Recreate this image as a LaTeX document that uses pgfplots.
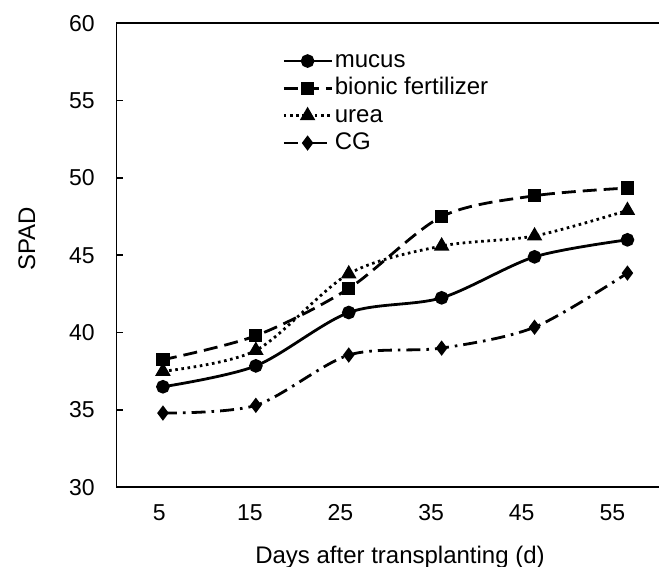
\documentclass[border=0pt]{standalone}
\usepackage{fontspec}
\setmainfont{Liberation Sans}
\usepackage{pgfplots}
\pgfplotsset{compat=1.18}
\begin{document}
\begin{tikzpicture}
\begin{axis}[
  name=ax,
  at={(0,0)}, anchor=south west,
  scale only axis,
  width=278.7pt, height=232pt,
  xmin=-0.5, xmax=5.5, ymin=30, ymax=60,
  ytick={30,35,...,60},
  xtick={-0.039,0.936,1.911,2.887,3.862,4.837},
  xticklabels={5,15,25,35,45,55},
  xtick style={draw=none},
  ytick style={line width=0.8pt, black},
  tick align=inside,
  major tick length=3.5pt,
  axis line style={line width=0.8pt, black},
  /pgf/number format/assume math mode=true,
  yticklabel style={font=\fontsize{11.5}{13}\selectfont, inner sep=0pt, xshift=-10.75pt},
  xticklabel style={font=\fontsize{11.5}{13}\selectfont, inner sep=0pt, yshift=-8.5pt},
  xlabel={Days after transplanting (d)},
  ylabel={SPAD},
  xlabel style={font=\fontsize{12}{14}\selectfont, at={(rel axis cs:0.5086,-0.1265)}, anchor=north, inner sep=0pt},
  ylabel style={font=\fontsize{12}{14}\selectfont, at={(rel axis cs:-0.1767,0.535)}, anchor=north, inner sep=0pt},
  legend style={draw=none, fill=none, at={(rel axis cs:0.2969,0.949)}, anchor=north west,
    font=\fontsize{12}{14}\selectfont, inner sep=0pt, row sep=0pt,
    nodes={inner sep=1pt, text height=9pt, text depth=2.67pt}},
  legend cell align=left,
  legend image code/.code={\draw[mark repeat=2,mark phase=2,#1] plot coordinates {(0pt,0pt) (11.9pt,0pt) (23.85pt,0pt)};},
]
\addplot[black, line width=1.4pt, smooth, tension=0.5, solid, mark=*, mark size=2.7pt, mark options={solid, fill=black}] coordinates {(0,36.5) (1,37.85) (2,41.3) (3,42.25) (4,44.9) (5,46.0)};
\addlegendentry{mucus}
\addplot[black, line width=1.4pt, smooth, tension=0.5, dash pattern=on 7pt off 3.5pt, mark=square*, mark size=2.6pt, mark options={solid, fill=black}] coordinates {(0,38.25) (1,39.8) (2,42.85) (3,47.5) (4,48.85) (5,49.35)};
\addlegendentry{bionic fertilizer}
\addplot[black, line width=1.4pt, smooth, tension=0.5, dash pattern=on 1.3pt off 1.8pt, mark=triangle*, mark size=3.1pt, mark options={solid, fill=black}] coordinates {(0,37.5) (1,38.85) (2,43.8) (3,45.6) (4,46.25) (5,47.9)};
\addlegendentry{urea}
\addplot[black, line width=1.4pt, smooth, tension=0.5, dash pattern=on 7pt off 3pt on 1.3pt off 3pt, mark=diamond*, mark size=2.7pt, mark options={solid, fill=black}] coordinates {(0,34.8) (1,35.3) (2,38.55) (3,39.0) (4,40.35) (5,43.85)};
\addlegendentry{CG}
\end{axis}
\pgfresetboundingbox
\useasboundingbox (-58.25pt,-39.85pt) rectangle (271.25pt,243.65pt);
\end{tikzpicture}
\end{document}
